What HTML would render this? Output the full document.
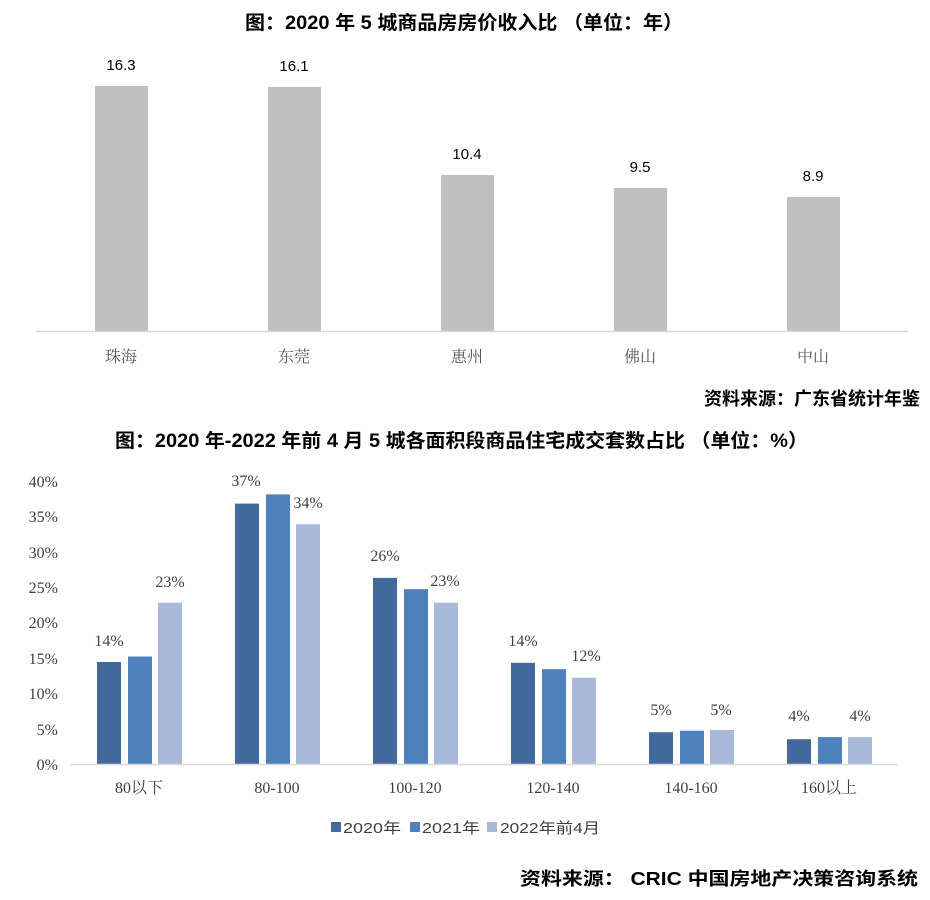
<!DOCTYPE html>
<html><head><meta charset="utf-8"><style>
html,body{margin:0;padding:0;background:#fff;}
svg{display:block;}
.t{font-family:"Liberation Sans","Noto Sans CJK SC",sans-serif;font-weight:bold;fill:#000;}
.s{font-family:"Liberation Serif","Noto Serif CJK SC",serif;fill:#404040;}
</style></head><body>
<svg width="930" height="900" viewBox="0 0 930 900" xmlns="http://www.w3.org/2000/svg">
<text class="t" x="245" y="29" font-size="19" textLength="438" lengthAdjust="spacingAndGlyphs">图：2020 年 5 城商品房房价收入比 （单位：年）</text>
<g fill="#bfbfbf">
<rect x="95" y="86" width="53" height="245"/>
<rect x="268" y="87" width="53" height="244"/>
<rect x="441" y="175" width="53" height="156"/>
<rect x="614" y="188" width="53" height="143"/>
<rect x="787" y="197" width="53" height="134"/>
</g>
<line x1="36" y1="331.5" x2="908" y2="331.5" stroke="#d9d9d9" stroke-width="1.5"/>
<g font-family="Liberation Sans,sans-serif" font-size="15" fill="#000" text-anchor="middle">
<text x="121" y="70">16.3</text><text x="294" y="71">16.1</text><text x="467" y="159">10.4</text><text x="640" y="172">9.5</text><text x="813" y="181">8.9</text>
</g>
<g class="s" font-size="16" text-anchor="middle" style="fill:#595959">
<text x="121" y="362">珠海</text><text x="294" y="362">东莞</text><text x="467" y="362">惠州</text><text x="640" y="362">佛山</text><text x="813" y="362">中山</text>
</g>
<text class="t" x="920" y="405" font-size="18" text-anchor="end">资料来源：广东省统计年鉴</text>
<text class="t" x="115" y="447" font-size="19" textLength="693" lengthAdjust="spacingAndGlyphs">图：2020 年-2022 年前 4 月 5 城各面积段商品住宅成交套数占比 （单位：%）</text>
<g class="s" font-size="16" text-anchor="end">
<text x="58" y="487">40%</text><text x="58" y="522">35%</text><text x="58" y="558">30%</text><text x="58" y="593">25%</text><text x="58" y="628">20%</text><text x="58" y="664">15%</text><text x="58" y="699">10%</text><text x="58" y="735">5%</text><text x="58" y="770">0%</text>
</g>
<g fill="#41699b">
<rect x="97" y="662" width="24" height="102"/>
<rect x="235" y="503.6" width="24" height="260.4"/>
<rect x="373" y="577.9" width="24" height="186.1"/>
<rect x="511" y="662.8" width="24" height="101.2"/>
<rect x="649" y="732.2" width="24" height="31.8"/>
<rect x="787" y="739.2" width="24" height="24.8"/>
</g>
<g fill="#4f81bd">
<rect x="128" y="656.5" width="24" height="107.5"/>
<rect x="266" y="494.4" width="24" height="269.6"/>
<rect x="404" y="589.2" width="24" height="174.8"/>
<rect x="542" y="669.2" width="24" height="94.8"/>
<rect x="680" y="730.7" width="24" height="33.3"/>
<rect x="818" y="737.1" width="24" height="26.9"/>
</g>
<g fill="#a9b9d9">
<rect x="158" y="602.7" width="24" height="161.3"/>
<rect x="296" y="524.2" width="24" height="239.8"/>
<rect x="434" y="602.7" width="24" height="161.3"/>
<rect x="572" y="677.7" width="24" height="86.3"/>
<rect x="710" y="730" width="24" height="34"/>
<rect x="848" y="737.1" width="24" height="26.9"/>
</g>
<line x1="70" y1="764.5" x2="898" y2="764.5" stroke="#d9d9d9" stroke-width="1.5"/>
<g class="s" font-size="16" text-anchor="middle">
<text x="109" y="646">14%</text><text x="170" y="587">23%</text>
<text x="246" y="486">37%</text><text x="308" y="508">34%</text>
<text x="385" y="561">26%</text><text x="445" y="586">23%</text>
<text x="523" y="646">14%</text><text x="586" y="661">12%</text>
<text x="661" y="715">5%</text><text x="721" y="715">5%</text>
<text x="799" y="721">4%</text><text x="860" y="721">4%</text>
</g>
<g class="s" font-size="16" text-anchor="middle">
<text x="139" y="793">80以下</text><text x="277" y="793">80-100</text><text x="415" y="793">100-120</text><text x="553" y="793">120-140</text><text x="691" y="793">140-160</text><text x="829" y="793">160以上</text>
</g>
<g font-family="Liberation Sans,Noto Sans CJK SC,sans-serif" font-size="15" fill="#404040">
<rect x="331" y="822" width="10" height="10" fill="#41699b"/><text x="343" y="833" textLength="58" lengthAdjust="spacingAndGlyphs">2020年</text>
<rect x="410" y="822" width="10" height="10" fill="#4f81bd"/><text x="422" y="833" textLength="58" lengthAdjust="spacingAndGlyphs">2021年</text>
<rect x="487" y="822" width="10" height="10" fill="#a9b9d9"/><text x="500" y="833" textLength="100" lengthAdjust="spacingAndGlyphs">2022年前4月</text>
</g>
<text class="t" x="918" y="885" font-size="18" text-anchor="end" textLength="398" lengthAdjust="spacingAndGlyphs">资料来源：  CRIC 中国房地产决策咨询系统</text>
</svg>
</body></html>
